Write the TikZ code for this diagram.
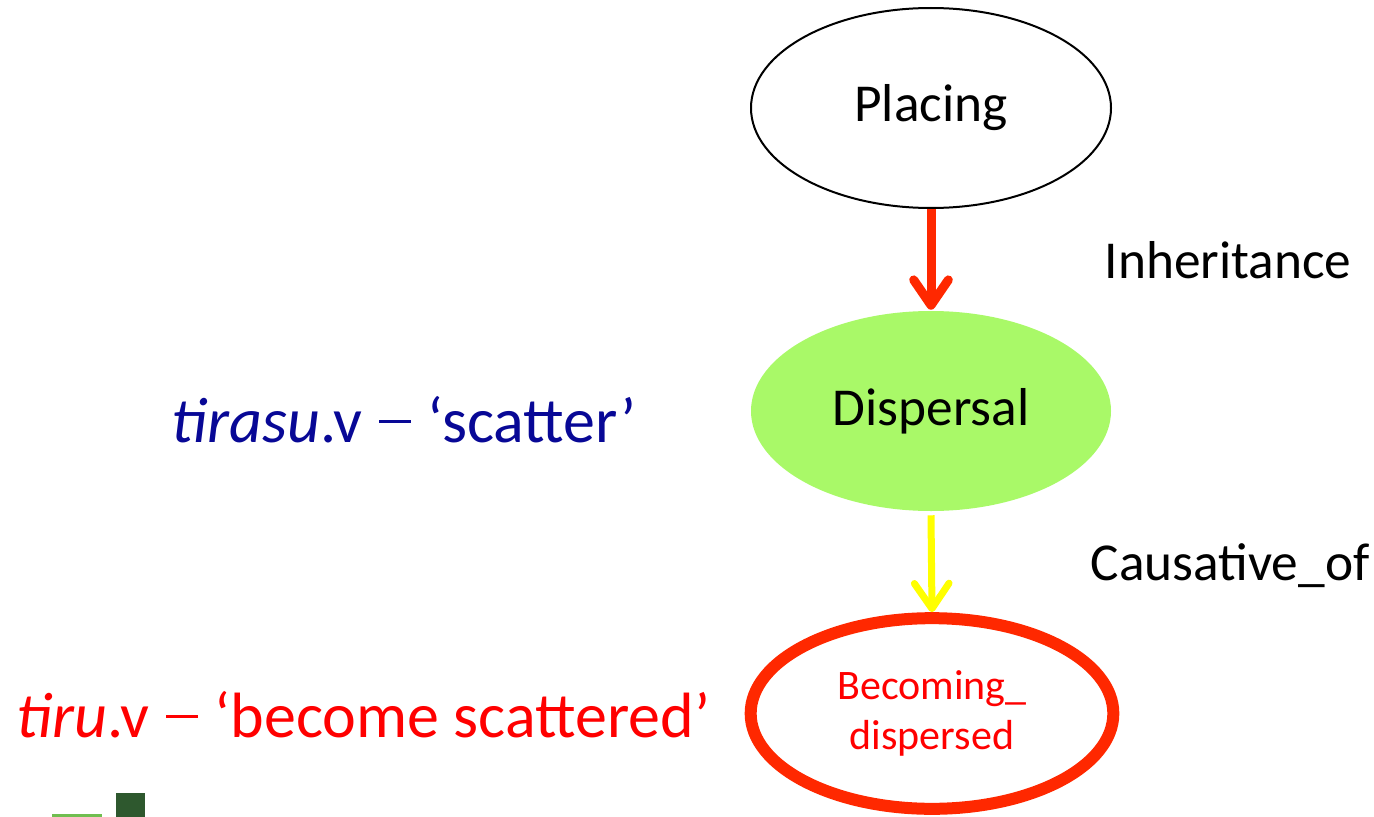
\documentclass[tikz,border=0pt]{standalone}
\usepackage{fontspec}
\setmainfont{Carlito}
\usetikzlibrary{shapes.geometric,arrows.meta}
\definecolor{arrred}{RGB}{255,40,0}
\definecolor{txtred}{RGB}{255,0,0}
\definecolor{txtblue}{RGB}{8,8,150}
\definecolor{lgreen}{RGB}{169,249,104}
\definecolor{arryellow}{RGB}{255,255,0}
\definecolor{lingreen}{RGB}{112,190,80}
\definecolor{sqgreen}{RGB}{46,88,46}
\newcommand{\mydash}{\hspace{0.03em}\rule[0.3em]{0.5em}{0.05em}\hspace{0.03em}}
\tikzset{
  frame/.style={ellipse, inner sep=0pt, align=center},
  bigtxt/.style={font=\fontsize{40}{48}\selectfont},
  lextxt/.style={font=\fontsize{48}{58}\selectfont, anchor=base west},
  reltxt/.style={font=\fontsize{40}{48}\selectfont, anchor=base west},
}
\begin{document}
\begin{tikzpicture}[x=0.75pt,y=-0.75pt]
\useasboundingbox (0,0) rectangle (1374,817);
\node[frame, draw=black, line width=1.5pt, minimum width=270pt, minimum height=150pt, bigtxt] (placing) at (931,108) {Placing};
\node[frame, fill=lgreen, minimum width=270pt, minimum height=150pt, bigtxt] (dispersal) at (931,411) {Dispersal};
\node[frame, draw=arrred, line width=9pt, minimum width=272pt, minimum height=143pt, text=txtred, font=\fontsize{31.5}{37.5}\selectfont] (becoming) at (932,713.5) {Becoming\_\\dispersed};
\draw[arrred, line width=6.75pt, -{Straight Barb[length=19pt, width=26pt, round]}] (placing.south) -- ([yshift=0.75pt]dispersal.north);
\draw[arryellow, line width=5.25pt, -{Straight Barb[length=19pt, width=26pt, round]}] ([yshift=-3pt]dispersal.south) -- (becoming.north);
\node[reltxt] (inh) at (1100,278) {Inheritance};
\node[reltxt] (caus) at (1086,580) {Causative\_of};
\node[lextxt, text=txtblue] (tirasu) at (167,442) {\textit{tirasu}.v \mydash{} ‘scatter’};
\node[lextxt, text=txtred] (tiru) at (12,737) {\textit{tiru}.v \mydash{} ‘become scattered’};
\draw[lingreen, line width=2.25pt] (52,815.5) -- (102,815.5);
\fill[sqgreen] (116,793) rectangle (145,817);
\end{tikzpicture}
\end{document}
